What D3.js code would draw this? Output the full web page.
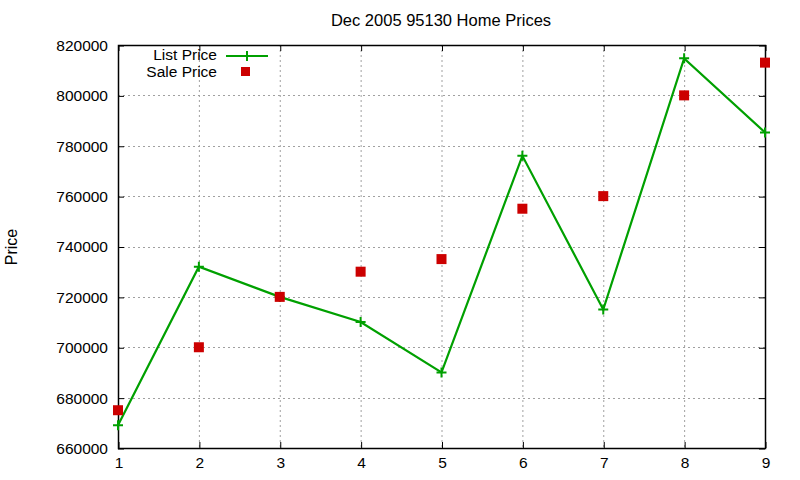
<!DOCTYPE html>
<html><head><meta charset="utf-8">
<script src="https://cdn.jsdelivr.net/npm/d3@7"></script>
<style>body{margin:0;background:#fff}text{font-family:"Liberation Sans",Arial,sans-serif}</style>
</head><body><svg id="c" width="800" height="480"></svg>
<script>
const xs = [1,2,3,4,5,6,7,8,9];
const listPrice = [669000,732000,720000,710000,690000,776000,715000,814700,785300];
const salePrice = [675000,700000,720000,730000,735000,755000,760000,800000,813000];
const yTicks = [660000,680000,700000,720000,740000,760000,780000,800000,820000];

const svg = d3.select("#c");
const L=118,R=765,T=45,B=448;
const x = d3.scaleLinear().domain([1,9]).range([L,R]);
const y = d3.scaleLinear().domain([660000,820000]).range([B,T]);

// grid
const g = svg.append("g").attr("stroke","#a0a0a0").attr("stroke-dasharray","2,3").attr("stroke-width",1);
xs.slice(1,-1).forEach(v=>g.append("line").attr("x1",x(v)+0.5).attr("x2",x(v)+0.5).attr("y1",T).attr("y2",B));
yTicks.slice(1,-1).forEach(v=>g.append("line").attr("x1",L).attr("x2",R).attr("y1",Math.round(y(v))+0.5).attr("y2",Math.round(y(v))+0.5));

// axes
const ax = (gen, tr) => svg.append("g").attr("transform",tr).call(gen)
  .call(s=>{s.select(".domain").remove();s.selectAll("line").attr("stroke","#000");s.selectAll("text").attr("font-size",15.5).attr("fill","#000").attr("font-family","Liberation Sans, Arial, sans-serif");});
ax(d3.axisBottom(x).tickValues(xs).tickFormat(d3.format("d")).tickSizeInner(-6).tickPadding(9), `translate(0.5,${B})`);
ax(d3.axisTop(x).tickValues(xs).tickFormat("").tickSizeInner(-6), `translate(0.5,${T})`);
ax(d3.axisLeft(y).tickValues(yTicks).tickFormat(d3.format("d")).tickSizeInner(-6).tickPadding(10), `translate(${L},0.5)`);
ax(d3.axisRight(y).tickValues(yTicks).tickFormat("").tickSizeInner(-6), `translate(${R},0.5)`);
svg.append("rect").attr("x",L+0.5).attr("y",T+0.5).attr("width",R-L).attr("height",B-T).attr("fill","none").attr("stroke","#000").attr("stroke-width",1.5);

// list line
const green="#00a000", red="#cc0000";
svg.append("path").datum(xs.map((v,i)=>[v,listPrice[i]]))
  .attr("d",d3.line().x(d=>x(d[0])).y(d=>y(d[1])))
  .attr("fill","none").attr("stroke",green).attr("stroke-width",2.2);
const plus=(cx,cy)=>svg.append("path").attr("d",`M${cx-5},${cy}H${cx+5}M${cx},${cy-5}V${cy+5}`).attr("stroke",green).attr("stroke-width",2);
xs.forEach((v,i)=>plus(x(v),y(listPrice[i])));
// sale squares
svg.append("g").selectAll("rect").data(xs).join("rect")
  .attr("x",(d)=>x(d)-5).attr("y",(d,i)=>y(salePrice[i])-5).attr("width",10).attr("height",10).attr("fill",red);

// legend
svg.append("text").attr("x",217).attr("y",60).attr("text-anchor","end").attr("font-size",15.5).text("List Price");
svg.append("line").attr("x1",226).attr("x2",268).attr("y1",56).attr("y2",56).attr("stroke",green).attr("stroke-width",2);
plus(247,56);
svg.append("text").attr("x",217).attr("y",76.5).attr("text-anchor","end").attr("font-size",15.5).text("Sale Price");
svg.append("rect").attr("x",241).attr("y",67).attr("width",9).attr("height",9).attr("fill",red);

// titles
svg.append("text").attr("x",441).attr("y",26).attr("text-anchor","middle").attr("font-size",16.5).text("Dec 2005 95130 Home Prices");
svg.append("text").attr("transform","translate(17,247) rotate(-90)").attr("text-anchor","middle").attr("font-size",16).text("Price");
</script></body></html>
